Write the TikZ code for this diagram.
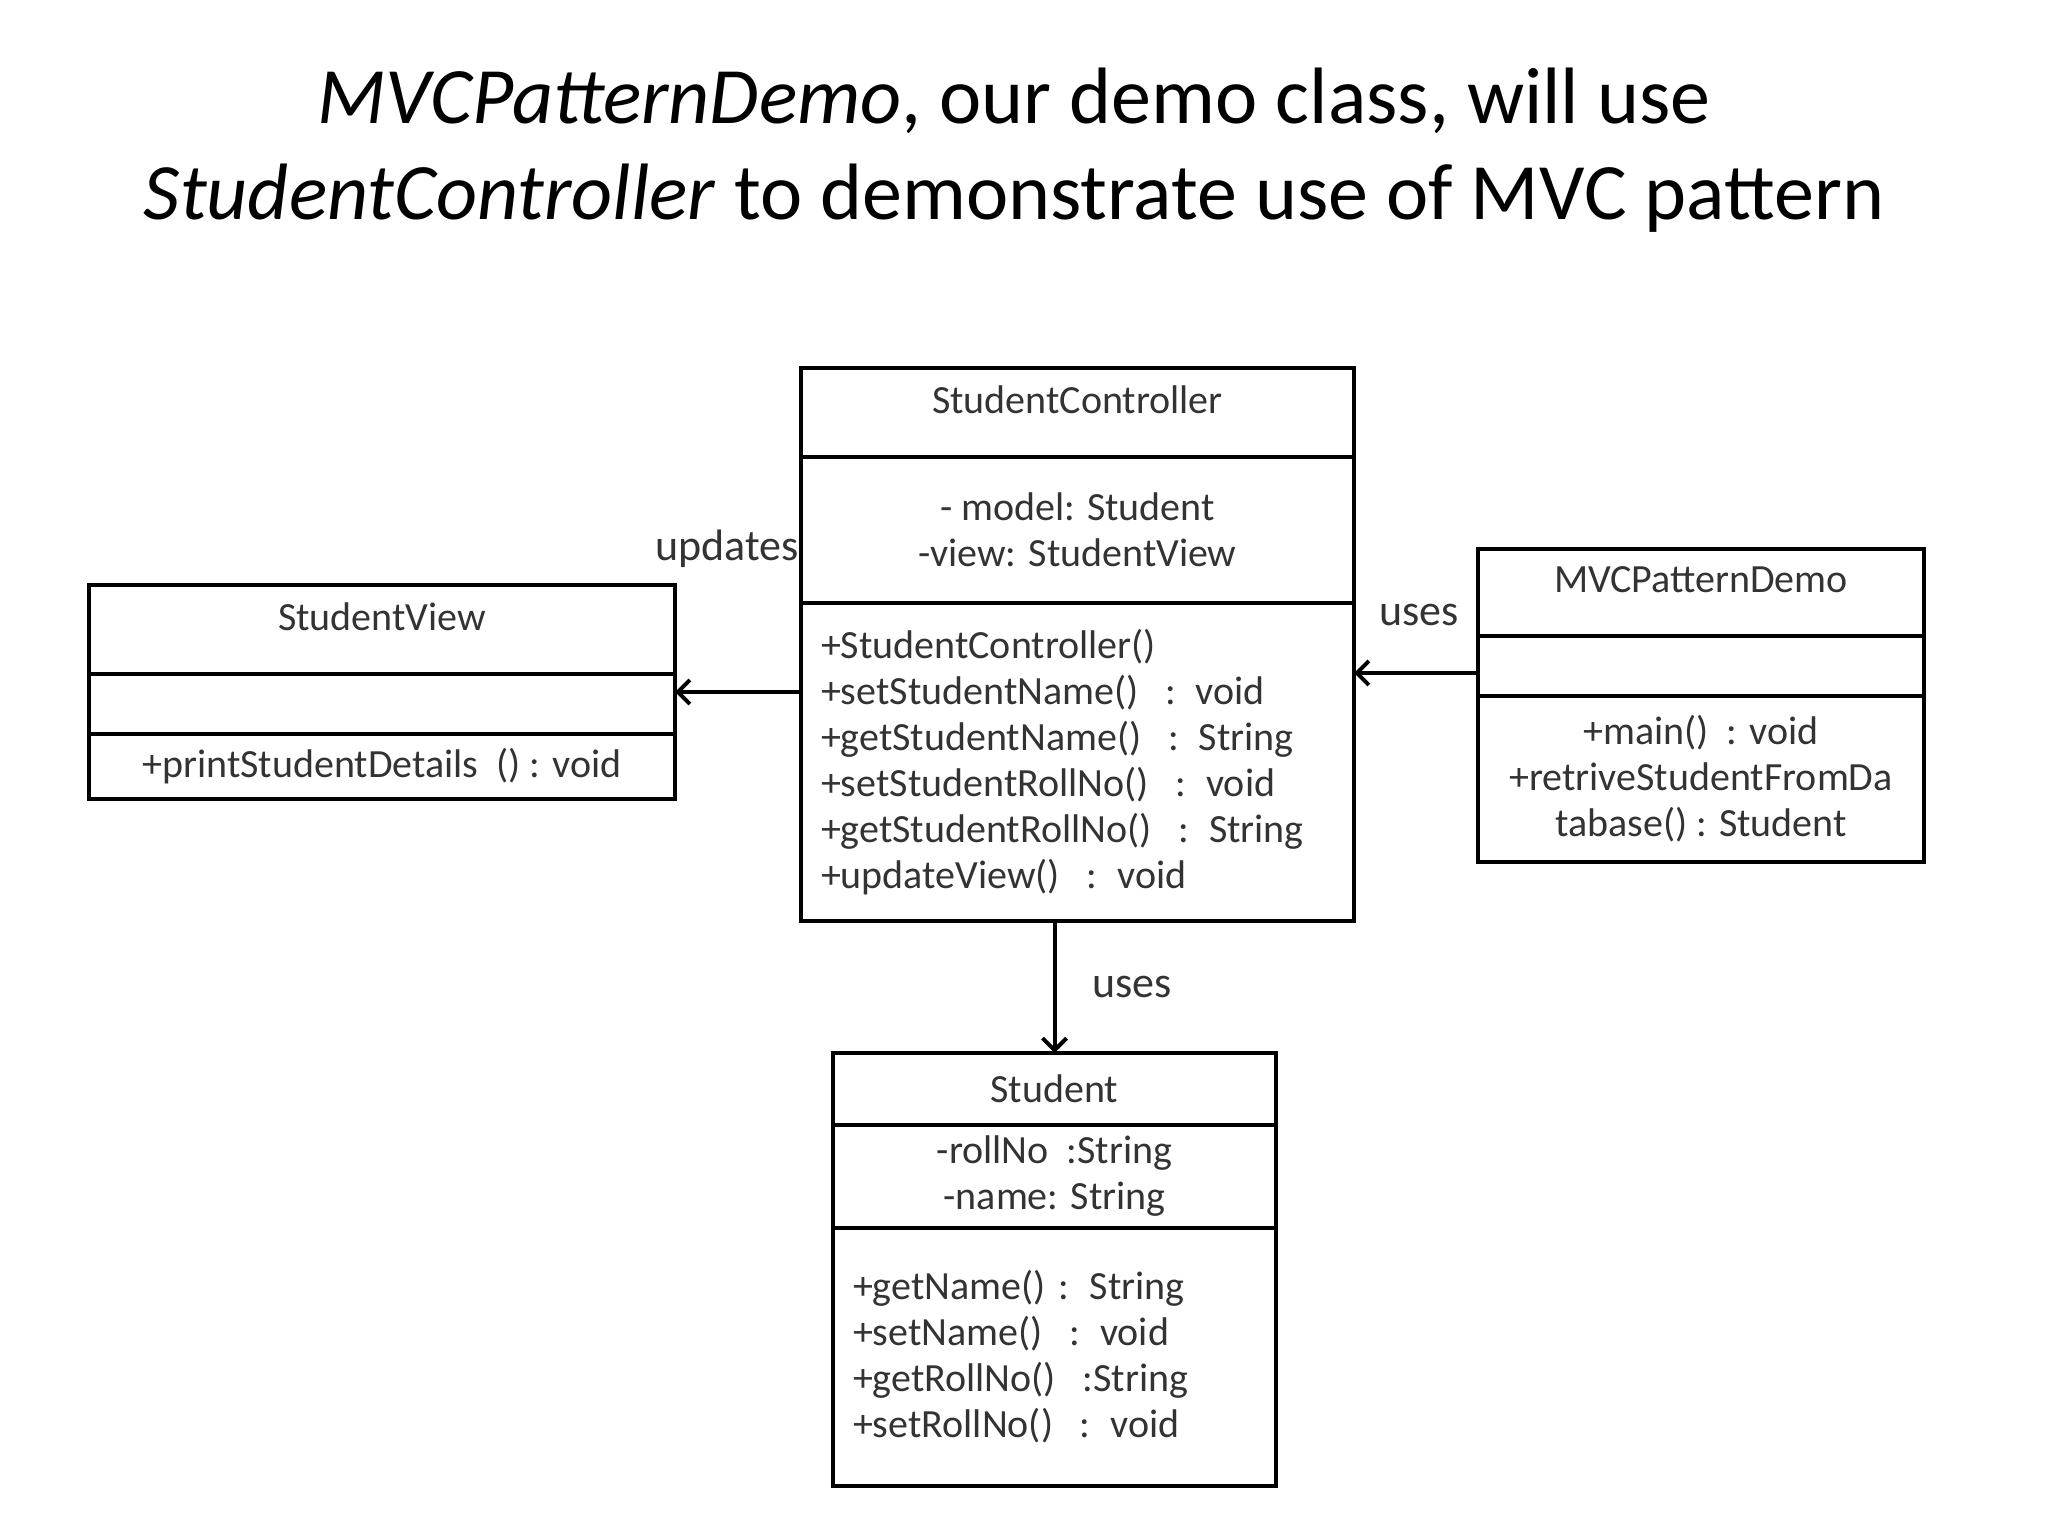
\documentclass[tikz,border=0pt]{standalone}
\usepackage{fontspec}
\setmainfont{Carlito}
\usetikzlibrary{positioning, arrows.meta, calc}
\tikzset{
  part/.style={rectangle, draw, line width=2pt, outer sep=0pt, inner sep=0pt,
               align=center, text=black!80, font=\fontsize{20}{23}\selectfont},
  cpart/.style 2 args={part, minimum width=#1, minimum height=#2},
  npart/.style 2 args={cpart={#1}{#2}, text depth=13pt},
  opart/.style 2 args={part, text width=#1, minimum height=#2,
                       inner xsep=10pt, align=left},
  lbl/.style={inner sep=0pt, text=black!80, font=\fontsize{22}{26}\selectfont},
  assoc/.style={-{Straight Barb[length=6pt, width=12pt]}, line width=2pt},
}

\begin{document}
\begin{tikzpicture}[x=0.5pt, y=-0.5pt]
  \useasboundingbox (0,0) rectangle (2048,1536);

  % title
  \node[font=\fontsize{40}{48}\selectfont, align=center] (title) at (1014,150)
    {\textit{MVCPatternDemo}, our demo class, will use\\
     \textit{StudentController} to demonstrate use of MVC pattern};

  % controller
  \node[npart={276.5pt}{44.5pt}, anchor=north] (ctrlName) at (1077.5,368) {StudentController};
  \node[cpart={276.5pt}{73pt}, below=0pt of ctrlName] (ctrlAttr)
    {- model: Student\\-view: StudentView};
  \node[opart={256.5pt}{159pt}, below=0pt of ctrlAttr] (ctrlOps)
    {+StudentController()\\
     +setStudentName()~ : void\\
     +getStudentName()~ : String\\
     +setStudentRollNo()~ : void\\
     +getStudentRollNo()~ : String\\
     +updateView()~ : void};

  % view
  \node[npart={293pt}{44.5pt}, anchor=north] (viewName) at (382,585) {StudentView};
  \node[cpart={293pt}{30pt}, below=0pt of viewName] (viewAttr) {};
  \node[cpart={293pt}{32.5pt}, below=0pt of viewAttr] (viewOps)
    {+printStudentDetails~~() : void};

  % demo class
  \node[npart={223pt}{43.5pt}, anchor=north] (demoName) at (1701,549) {MVCPatternDemo};
  \node[cpart={223pt}{30pt}, below=0pt of demoName] (demoAttr) {};
  \node[cpart={223pt}{83pt}, below=0pt of demoAttr] (demoOps)
    {+main()~ : void\\+retriveStudentFromDa\\tabase() : Student};

  % model
  \node[cpart={221.5pt}{36pt}, anchor=north] (stuName) at (1054.5,1053) {Student};
  \node[cpart={221.5pt}{51.5pt}, below=0pt of stuName] (stuAttr)
    {-rollNo~ :String\\-name: String};
  \node[opart={201.5pt}{129pt}, below=0pt of stuAttr] (stuOps)
    {+getName() : String\\
     +setName()~ : void\\
     +getRollNo()~ :String\\
     +setRollNo()~ : void};

  % associations
  \draw[assoc] ($(ctrlOps.west |- viewAttr.east)+(0,6pt)$) -- ($(viewAttr.east)+(0,6pt)$);
  \draw[assoc] ($(demoAttr.west)+(0,-3.5pt)$) -- ($(ctrlOps.east |- demoAttr.west)+(0,-3.5pt)$);
  \draw[assoc] (ctrlOps.south -| stuName.north) -- node[lbl, right=18pt] (usesB) {uses} (stuName.north);

  \node[lbl, anchor=east] (upd) at ($(ctrlAttr.west)+(-1pt,-9.5pt)$) {updates};
  \node[lbl, anchor=east] (usesR) at ($(demoName.west)+(-9.5pt,-11pt)$) {uses};
\end{tikzpicture}
\end{document}
